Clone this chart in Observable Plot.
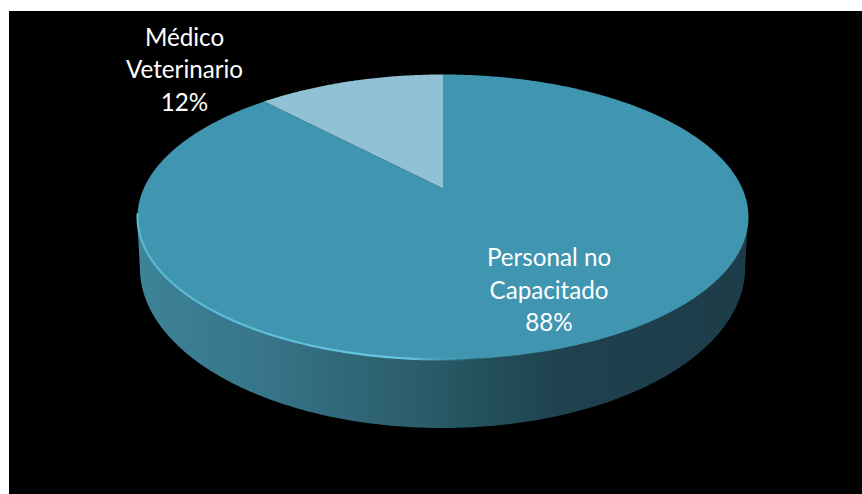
<!DOCTYPE html>
<html lang="es">
<head>
<meta charset="utf-8">
<title>Personal no Capacitado y Médico Veterinario</title>
<script src="https://cdn.jsdelivr.net/npm/d3@7"></script>
<script src="https://cdn.jsdelivr.net/npm/@observablehq/plot@0.6"></script>
<style>
  html, body { margin: 0; background: #fff; }
  body { padding: 11px 0 0 9px; width: 853px; height: 483px; overflow: hidden; }
  svg { display: block; background: #000; }
</style>
</head>
<body>
<div id="chart"></div>
<script>
// Shares of each group, in percent
const categories = ["Personal no Capacitado", "Médico Veterinario"];
const values = [88, 12];
const labelLines = [["Personal no", "Capacitado"], ["Médico", "Veterinario"]];
const sliceColors = ["#4095b0", "#90c1d4"];

// Perspective view of the disc: k is the foreshortening towards the back
const k = 0.2;
const top3d = {cx: 442.5, cy: 188, a: 299.3, b: 136.8};
const base3d = {cx: 442.5, cy: 236, a: 296.5, b: 153.6};
const project = (disc, angle, r = 1) => {
  const u = r * Math.sin(angle), v = r * Math.cos(angle), w = 1 + k * v;
  return {x: disc.cx + disc.a * u / w, y: disc.cy - disc.b * v / w};
};

// Slice outlines on the top face
const arcs = d3.pie().sort(null)(values);
const slicePoints = arcs.flatMap((arc, i) => {
  const steps = Math.ceil((arc.endAngle - arc.startAngle) / 0.01);
  const rim = d3.range(steps + 1).map((j) =>
    project(top3d, arc.startAngle + (arc.endAngle - arc.startAngle) * j / steps));
  return [project(top3d, 0, 0), ...rim].map((p) => ({...p, slice: categories[i]}));
});

// Visible side wall, between the two silhouette points of the disc
const wallStart = Math.acos(-k);
const wallEnd = 2 * Math.PI - wallStart;
const wallAngles = d3.range(wallStart, wallEnd, 0.01).concat(wallEnd);
const wall = wallAngles.map((angle) => {
  const t = project(top3d, angle), b = project(base3d, angle);
  return {x1: t.x, y1: t.y, x2: b.x, y2: b.y};
});

// Light edge along the front left of the top face
const rimAngles = d3.range(wallEnd + 0.02, Math.PI - 0.1, -0.01);
const rim = rimAngles.map((angle) => project(top3d, angle));

// Where each label block is centred
const labelPlacement = [{x: 548.5, y: 288}, {x: 184, y: 67.5}];
const labels = categories.map((c, i) => ({
  ...labelPlacement[i],
  text: [...labelLines[i], `${values[i]}%`].join("\n")
}));

const gradients = () => {
  const defs = d3.create("svg:defs");
  const wallFill = defs.append("linearGradient").attr("id", "wall-shade");
  [[0, "#3e8397"], [0.2, "#37758a"], [0.47, "#2a5c69"], [0.58, "#234e5b"], [0.7, "#1e424e"], [1, "#1c3c48"]]
    .forEach(([o, c]) => wallFill.append("stop").attr("offset", o).attr("stop-color", c));
  const rimStroke = defs.append("linearGradient").attr("id", "rim-light");
  [[0, "#5cbad6", 0.95], [0.8, "#66c6e0", 1], [1, "#4fa6c1", 0]]
    .forEach(([o, c, a]) => rimStroke.append("stop").attr("offset", o).attr("stop-color", c).attr("stop-opacity", a));
  return defs.node();
};

const chart = Plot.plot({
  width: 853,
  height: 483,
  margin: 0,
  style: {background: "#000", overflow: "hidden"},
  x: {domain: [9, 862], range: [0, 853], axis: null},
  y: {domain: [11, 494], range: [0, 483], axis: null},
  color: {domain: categories, range: sliceColors},
  marks: [
    gradients,
    Plot.area(wall, {x1: "x1", y1: "y1", x2: "x2", y2: "y2", fill: "url(#wall-shade)"}),
    Plot.line(slicePoints, {x: "x", y: "y", z: "slice", fill: "slice", stroke: "none"}),
    Plot.line(rim, {x: "x", y: "y", stroke: "url(#rim-light)", strokeWidth: 2.2, imageFilter: "blur(0.6px)"}),
    Plot.text(labels, {
      x: "x",
      y: "y",
      text: "text",
      fill: "#fff",
      fontFamily: "Lato, 'Open Sans', sans-serif",
      fontSize: 24.2,
      lineHeight: 1.34,
      textAnchor: "middle"
    })
  ]
});
document.getElementById("chart").append(chart);
</script>
</body>
</html>
